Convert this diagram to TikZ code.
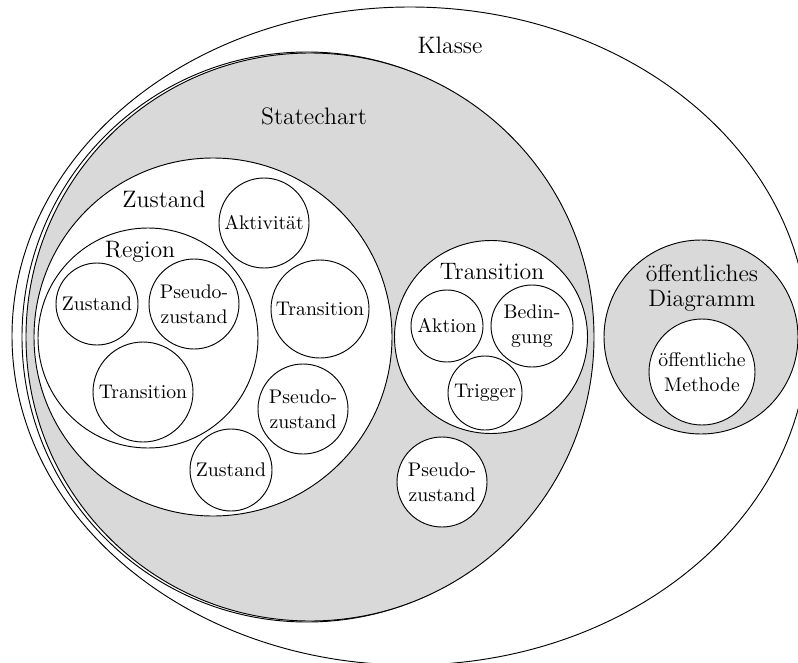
\documentclass[tikz,border=0pt]{standalone}
\usepackage{fontspec}
\begin{document}
\begin{tikzpicture}[x=0.5376pt,y=-0.5376pt,
  line width=0.5pt,
  every node/.style={inner sep=0pt, outer sep=0pt},
  sc/.style={circle, draw, fill=white, minimum size=#1*1.0752pt, align=center,
    font=\fontsize{10.6}{13.4}\selectfont},
  bigc/.style={circle, draw, minimum size=#1*1.0752pt},
  head/.style={font=\fontsize{12.8}{13.4}\selectfont, align=center}]
\useasboundingbox (0,0) rectangle (798,662);
\begin{scope}
  \clip (0,0) rectangle (798,662);
  \draw (410,336) ellipse [x radius=213.96pt, y radius=176.87pt];
  \node[bigc=285] (outline) at (307,337) {};
  % Statechart
  \node[bigc=284, fill=gray!30] (statechart) at (310,337) {};
  % oeffentliches Diagramm
  \node[bigc=97, fill=gray!30] (diagramm) at (701,337) {};
\end{scope}
\node[head, anchor=base] (klasseL) at (450,53) {Klasse};
\node[head, anchor=base] (statechartL) at (314,124) {Statechart};
% Zustand
\node[bigc=179, fill=white] (zustand) at (213,337) {};
\node[head, anchor=base] (zustandL) at (164,207) {Zustand};
\node[bigc=110, fill=white] (region) at (148,338) {};
\node[head, anchor=base] (regionL) at (140,257) {Region};
\node[sc=41] (rz) at (97,304) {Zustand};
\node[sc=45] (rp) at (194,304) {Pseudo-\\zustand};
\node[sc=50] (rt) at (143,392) {Transition};
\node[sc=45] (za) at (264,223) {Aktivit\"at};
\node[sc=49] (zt) at (320,309) {Transition};
\node[sc=45] (zp) at (303,409) {Pseudo-\\zustand};
\node[sc=41] (zz) at (231,470) {Zustand};
% Transition
\node[bigc=96.5, fill=white] (transition) at (491,337) {};
\node[head, anchor=base] (transitionL) at (492,279) {Transition};
\node[sc=36] (aktion) at (447,326) {Aktion};
\node[sc=41] (bedingung) at (532,326) {Bedin-\\gung};
\node[sc=37] (trigger) at (485,393) {Trigger};
\node[sc=45] (sp) at (442,482) {Pseudo-\\zustand};
% oeffentliches Diagramm
\node[head] (diagrammL) at (702,288) {öffentliches\\Diagramm};
\node[sc=53] (methode) at (702,372) {öffentliche\\Methode};
\end{tikzpicture}
\end{document}
